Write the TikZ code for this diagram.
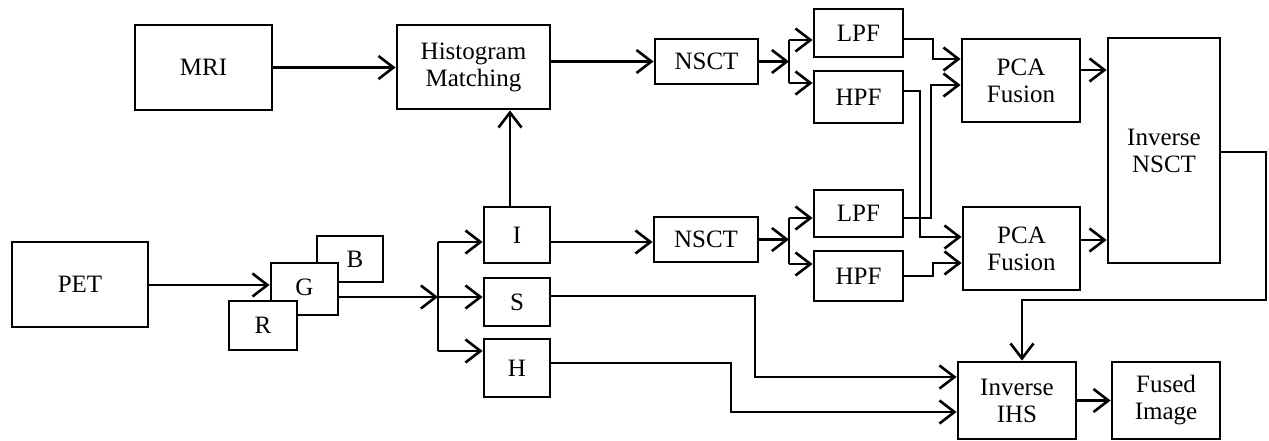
\documentclass[tikz,border=0pt]{standalone}
\usepackage{fontspec}
\setmainfont{Liberation Serif}
\usetikzlibrary{arrows.meta,calc}
\begin{document}
\begin{tikzpicture}[x=1pt,y=-1pt,
  every node/.style={font=\fontsize{25}{27}\selectfont},
  box/.style={draw, line width=2.8pt, fill=white, inner sep=0pt, align=center},
  link/.style={line width=2.8pt},
  arr/.style={link, -{Straight Barb[length=15pt,width=23pt,line width=2.6pt]}}]
\useasboundingbox (0,0) rectangle (1269,441);

% top chain
\node[box, minimum width=137, minimum height=85] (mri) at (203.5,67.5) {MRI};
\node[box, minimum width=153, minimum height=84] (hist) at (473.5,67) {Histogram\\Matching};
\node[box, minimum width=103, minimum height=45] (nsct1) at (706.5,61.5) {NSCT};
\node[box, minimum width=89, minimum height=48] (lpf1) at (858.5,33) {LPF};
\node[box, minimum width=89, minimum height=52] (hpf1) at (858.5,97) {HPF};
\node[box, minimum width=118, minimum height=83] (pca1) at (1021,80.5) {PCA\\Fusion};
\node[box, minimum width=112, minimum height=225] (insct) at (1164,150.5) {Inverse\\NSCT};

% bottom chain
\node[box, minimum width=104, minimum height=45] (nsct2) at (706,239.5) {NSCT};
\node[box, minimum width=89, minimum height=47] (lpf2) at (858.5,213.5) {LPF};
\node[box, minimum width=89, minimum height=50] (hpf2) at (858.5,276) {HPF};
\node[box, minimum width=117, minimum height=83] (pca2) at (1021.5,248.5) {PCA\\Fusion};

% colour planes and IHS components
\node[box, minimum width=136, minimum height=85] (pet) at (80,284.5) {PET};
\node[box, minimum width=66, minimum height=46] (b) at (350,259) {\hspace*{10pt}B};
\node[box, minimum width=67, minimum height=52] (g) at (304.5,289) {\raisebox{3pt}{G}};
\node[box, minimum width=68, minimum height=49] (r) at (263,325.5) {R};
\node[box, minimum width=66, minimum height=56] (i) at (517,235) {I};
\node[box, minimum width=66, minimum height=48] (s) at (517,302) {S};
\node[box, minimum width=66, minimum height=58] (h) at (517,368) {H};

% output
\node[box, minimum width=118, minimum height=77] (iihs) at (1017,400.5) {Inverse\\IHS};
\node[box, minimum width=108, minimum height=77] (fused) at (1166,400.5) {Fused\\Image};

% branch points
\coordinate (b1) at (789,61.5);
\coordinate (b2) at (789,239.5);
\coordinate (b3) at (438,297);

% MRI path
\draw[arr] (mri.east) -- (mri.east -| hist.west);
\draw[arr] (nsct1.west -| hist.east) -- (nsct1.west);
\draw[arr] ([xshift=-7pt]i.north) -- ([xshift=-7pt]i.north |- hist.south);

% PET path
\draw[arr] (pet.east |- 0,285) -- (g.west |- 0,285);
\draw[arr] (g.east |- b3) -- (b3);
\draw[link] (b3 |- 0,242) -- (b3 |- 0,351);
\draw[arr] (b3 |- 0,242) -- (i.west |- 0,242);
\draw[arr] (b3) -- (s.west |- b3);
\draw[arr] (b3 |- 0,351) -- (h.west |- 0,351);
\draw[arr] (i.east |- 0,242) -- (nsct2.west |- 0,242);

% decompositions
\draw[arr] (nsct1.east) -- (b1);
\draw[link] (b1 |- 0,40) -- (b1 |- 0,83);
\draw[arr] (b1 |- 0,40) -- (lpf1.west |- 0,40);
\draw[arr] (b1 |- 0,83) -- (hpf1.west |- 0,83);
\draw[arr] (nsct2.east) -- (b2);
\draw[link] (b2 |- 0,218) -- (b2 |- 0,264);
\draw[arr] (b2 |- 0,218) -- (lpf2.west |- 0,218);
\draw[arr] (b2 |- 0,264) -- (hpf2.west |- 0,264);

% coefficient routing into the fusion blocks
\draw[arr] (lpf1.east |- 0,39) -- (933,39) -- (933,59) -- (pca1.west |- 0,59);
\draw[arr] (hpf1.east |- 0,91) -- (920,91) -- (920,237) -- (pca2.west |- 0,237);
\draw[arr] (lpf2.east |- 0,218) -- (931,218) -- (931,85) -- (pca1.west |- 0,85);
\draw[arr] (hpf2.east |- 0,276) -- (933,276) -- (933,263) -- (pca2.west |- 0,263);

% reconstruction
\draw[arr] (pca1.east |- 0,70) -- (insct.west |- 0,70);
\draw[arr] (pca2.east |- 0,240) -- (insct.west |- 0,240);
\draw[arr] (insct.east |- 0,152) -- (1266,152) -- (1266,300) -- (1022,300) -- (iihs.north -| 1022,0);
\draw[arr] (s.east |- 0,296) -- (755,296) -- (755,377) -- (iihs.west |- 0,377);
\draw[arr] (h.east |- 0,363) -- (731,363) -- (731,412) -- (iihs.west |- 0,412);
\draw[arr] (iihs.east) -- (fused.west);
\end{tikzpicture}
\end{document}
